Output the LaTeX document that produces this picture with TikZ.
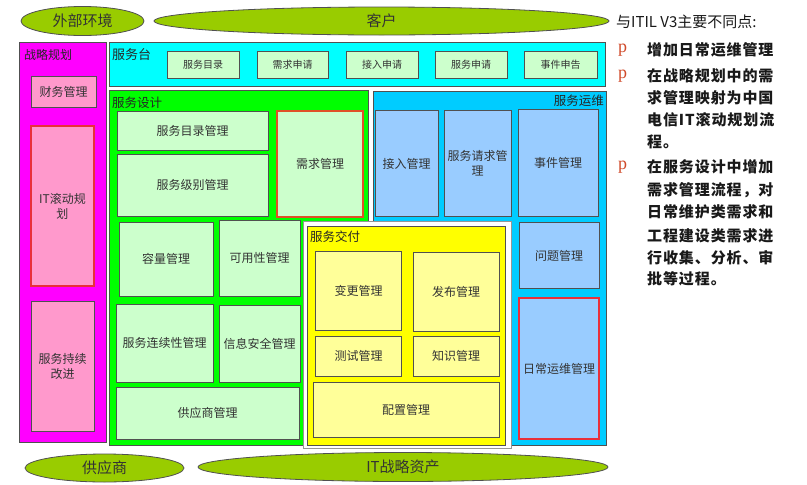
\documentclass[tikz,border=0pt]{standalone}
\usepackage{fontspec}
\setmainfont{Noto Sans CJK SC}
\newfontfamily\bulletfont{Liberation Serif}
\usetikzlibrary{shapes.geometric}
\definecolor{ellg}{HTML}{99CC00}
\definecolor{mag}{HTML}{FF00FF}
\definecolor{pinkb}{HTML}{FF99CC}
\definecolor{cyanb}{HTML}{00FFFF}
\definecolor{greenb}{HTML}{00FF00}
\definecolor{lgreen}{HTML}{CCFFCC}
\definecolor{blueb}{HTML}{00CCFF}
\definecolor{lblue}{HTML}{99CCFF}
\definecolor{yelb}{HTML}{FFFF00}
\definecolor{lyel}{HTML}{FFFF99}
\definecolor{bord}{HTML}{505050}
\definecolor{redb}{HTML}{E8303A}
\definecolor{orb}{HTML}{E05028}
\definecolor{txt}{HTML}{333333}
\definecolor{bul}{HTML}{D04A2A}
\begin{document}
\begin{tikzpicture}[x=1pt,y=-1pt,
  base/.style={draw=bord, line width=0.8pt, inner sep=0pt, outer sep=0pt, align=center, text=txt, font=\fontsize{12}{15}\selectfont},
  outerbox/.style={base, line width=1pt},
  pinkbox/.style={base, fill=pinkb},
  lgbox/.style={base, fill=lgreen},
  smallbox/.style={base, fill=lgreen, font=\fontsize{10}{12}\selectfont},
  lybox/.style={base, fill=lyel},
  lbbox/.style={base, fill=lblue},
  redline/.style={draw=redb, line width=1.2pt},
  orangeline/.style={draw=orb, line width=1.2pt},
  ell/.style={ellipse, draw=bord, line width=0.8pt, fill=ellg, inner sep=0pt, outer sep=0pt, text=txt, font=\fontsize{15}{15}\selectfont},
  title/.style={inner sep=0pt, text=black!85, font=\fontsize{12.5}{14}\selectfont},
  rt/.style={anchor=west, inner sep=0pt, text=black!90, font=\fontsize{15}{15}\selectfont\bfseries\addfontfeatures{LetterSpace=6}},
  bp/.style={anchor=west, inner sep=0pt, text=bul, font=\fontsize{18}{18}\bulletfont}
]
\useasboundingbox (0,0) rectangle (807,485);
\fill[white] (0,0) rectangle (807,485);

% ellipses
\node[ell, minimum width=123pt, minimum height=29pt] (wbhj) at (82.5,21) {外部环境};
\node[ell, minimum width=455pt, minimum height=28pt] (kh) at (381.5,21) {客户};
\node[ell, minimum width=159pt, minimum height=28pt] (gys) at (104.5,468) {供应商};
\node[ell, minimum width=410pt, minimum height=29pt] (itzl) at (403,467) {IT战略资产};

% strategy
\node[outerbox, fill=mag, minimum width=87pt, minimum height=400pt] (zlgh) at (62.5,242) {};
\node[title, anchor=west, font=\fontsize{12}{14}\selectfont] (zlght) at (24,55) {战略规划};
\node[pinkbox, minimum width=65pt, minimum height=31pt] (cwgl) at (63.5,91.5) {财务管理};
\node[pinkbox, redline, minimum width=63pt, minimum height=160pt] (itgh) at (62.5,206) {IT滚动规\\划};
\node[pinkbox, minimum width=63pt, minimum height=130pt] (fwcx) at (62.5,366) {服务持续\\改进};

% service desk
\node[outerbox, fill=cyanb, minimum width=496pt, minimum height=44pt] (fwt) at (357,64) {};
\node[title, anchor=west, font=\fontsize{13}{14}\selectfont] (fwtt) at (112,55) {服务台};
\node[smallbox, minimum width=72pt, minimum height=27pt] (sm1) at (203,64.5) {服务目录};
\node[smallbox, minimum width=71pt, minimum height=27pt] (sm2) at (292.5,64.5) {需求申请};
\node[smallbox, minimum width=72pt, minimum height=27pt] (sm3) at (382,64.5) {接入申请};
\node[smallbox, minimum width=72pt, minimum height=27pt] (sm4) at (471,64.5) {服务申请};
\node[smallbox, minimum width=73pt, minimum height=27pt] (sm5) at (560.5,64.5) {事件申告};

% service design
\node[outerbox, fill=greenb, minimum width=259pt, minimum height=355pt] (fwsj) at (238.5,267.5) {};
\node[title, anchor=west] (fwsjt) at (112,103) {服务设计};
\node[lgbox, minimum width=151pt, minimum height=39pt] (fwmlgl) at (192.5,131) {服务目录管理};
\node[lgbox, minimum width=151pt, minimum height=62pt] (fwjbgl) at (192.5,185) {服务级别管理};
\node[lgbox, orangeline, minimum width=86pt, minimum height=106pt] (xqgl) at (320,164) {需求管理};
\node[lgbox, minimum width=94pt, minimum height=74pt] (rlgl) at (166,259) {容量管理};
\node[lgbox, minimum width=81pt, minimum height=76pt] (kyxgl) at (259.5,258) {可用性管理};
\node[lgbox, minimum width=97pt, minimum height=78pt] (lxxgl) at (164.5,343) {服务连续性管理};
\node[lgbox, minimum width=81pt, minimum height=77pt] (xxaqgl) at (259.5,343.5) {信息安全管理};
\node[lgbox, minimum width=183pt, minimum height=52pt] (gysgl) at (207.5,413) {供应商管理};

% service operation
\node[outerbox, fill=blueb, minimum width=233pt, minimum height=354pt] (fwyw) at (489.5,268) {};
\node[title, anchor=east] (fwywt) at (604,101) {服务运维};
\node[lbbox, minimum width=63pt, minimum height=106pt] (jrgl) at (406.5,163.5) {接入管理};
\node[lbbox, minimum width=67pt, minimum height=106pt] (fwqqgl) at (477.5,163.5) {服务请求管\\理};
\node[lbbox, minimum width=80pt, minimum height=107pt] (sjgl) at (558,162.5) {事件管理};
\node[lbbox, minimum width=80pt, minimum height=66pt] (wtgl) at (559,255.5) {问题管理};
\node[lbbox, redline, minimum width=80pt, minimum height=141pt] (rcywgl) at (559,368.5) {日常运维管理};

% service transition
\node[draw=bord!60, line width=0.6pt, fill=white, inner sep=0pt, minimum width=208pt, minimum height=227pt] (frame) at (407,334.5) {};
\node[outerbox, fill=yelb, minimum width=198pt, minimum height=219pt] (fwjf) at (406,335.5) {};
\node[title, anchor=west] (fwjft) at (310,237) {服务交付};
\node[lybox, minimum width=86pt, minimum height=79pt] (bggl) at (358.5,291) {变更管理};
\node[lybox, minimum width=86pt, minimum height=79pt] (fbgl) at (456,291.5) {发布管理};
\node[lybox, minimum width=86pt, minimum height=40pt] (csgl) at (358.5,356) {测试管理};
\node[lybox, minimum width=86pt, minimum height=40pt] (zsgl) at (456,356) {知识管理};
\node[lybox, minimum width=186pt, minimum height=55pt] (pzgl) at (406,409.5) {配置管理};

% right text
\node[rt, font=\fontsize{15}{15}\selectfont] (rtitle) at (616,22) {与ITIL V3主要不同点:};
\node[bp] (b1) at (618,50) {p};
\node[bp] (b2) at (618,76) {p};
\node[bp] (b3) at (618,167) {p};
\node[rt] (l1) at (647,50) {增加日常运维管理};
\node[rt] (l2) at (647,76) {在战略规划中的需};
\node[rt] (l3) at (647,98) {求管理映射为中国};
\node[rt] (l4) at (647,120) {电信IT滚动规划流};
\node[rt] (l5) at (647,142) {程。};
\node[rt] (l6) at (647,167) {在服务设计中增加};
\node[rt] (l7) at (647,190) {需求管理流程，对};
\node[rt] (l8) at (647,212) {日常维护类需求和};
\node[rt] (l9) at (647,236) {工程建设类需求进};
\node[rt] (l10) at (647,258) {行收集、分析、审};
\node[rt] (l11) at (647,279) {批等过程。};
\end{tikzpicture}
\end{document}
